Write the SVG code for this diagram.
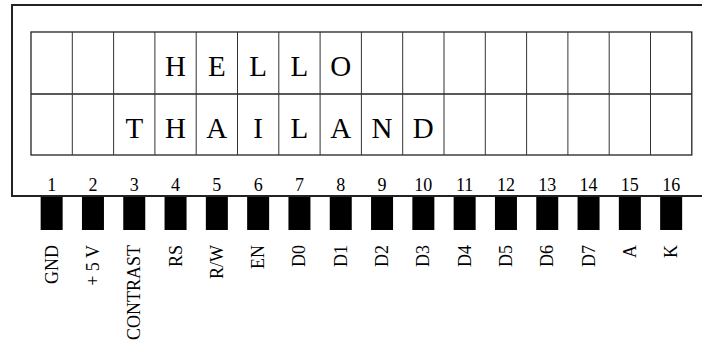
<svg xmlns="http://www.w3.org/2000/svg" width="702" height="347" viewBox="0 0 702 347">
<style>
.frame{fill:#fff;stroke:#222;stroke-width:2}
.grid{fill:none;stroke:#222;stroke-width:1.3}
.col{stroke:#333;stroke-width:1}
.ch{font-family:"Liberation Serif",serif;font-size:29px;fill:#000;text-anchor:middle}
.num{font-family:"Liberation Serif",serif;font-size:18px;fill:#000;text-anchor:middle}
.lbl{font-family:"Liberation Serif",serif;font-size:18px;fill:#000;text-anchor:end}
.pin{fill:#000}
</style>
<rect width="702" height="347" fill="#fff"/>
<g id="module">
<rect class="frame" x="12" y="5" width="700" height="191"/>
</g>
<g id="display">
<rect class="grid" x="31" y="32" width="660.8" height="123"/>
<line class="grid" x1="31" y1="94" x2="691.8" y2="94"/>
<g class="col">
<line x1="72.3" y1="32" x2="72.3" y2="155"/>
<line x1="113.6" y1="32" x2="113.6" y2="155"/>
<line x1="154.9" y1="32" x2="154.9" y2="155"/>
<line x1="196.2" y1="32" x2="196.2" y2="155"/>
<line x1="237.5" y1="32" x2="237.5" y2="155"/>
<line x1="278.8" y1="32" x2="278.8" y2="155"/>
<line x1="320.1" y1="32" x2="320.1" y2="155"/>
<line x1="361.4" y1="32" x2="361.4" y2="155"/>
<line x1="402.7" y1="32" x2="402.7" y2="155"/>
<line x1="444" y1="32" x2="444" y2="155"/>
<line x1="485.3" y1="32" x2="485.3" y2="155"/>
<line x1="526.6" y1="32" x2="526.6" y2="155"/>
<line x1="567.9" y1="32" x2="567.9" y2="155"/>
<line x1="609.2" y1="32" x2="609.2" y2="155"/>
<line x1="650.5" y1="32" x2="650.5" y2="155"/>
</g>
<g id="row1">
<text class="ch" x="175.55" y="76">H</text>
<text class="ch" x="216.85" y="76">E</text>
<text class="ch" x="258.15" y="76">L</text>
<text class="ch" x="299.45" y="76">L</text>
<text class="ch" x="340.75" y="76">O</text>
</g>
<g id="row2">
<text class="ch" x="134.25" y="138">T</text>
<text class="ch" x="175.55" y="138">H</text>
<text class="ch" x="216.85" y="138">A</text>
<text class="ch" x="258.15" y="138">I</text>
<text class="ch" x="299.45" y="138">L</text>
<text class="ch" x="340.75" y="138">A</text>
<text class="ch" x="382.05" y="138">N</text>
<text class="ch" x="423.35" y="138">D</text>
</g>
</g>
<g id="pin1"><text class="num" x="51.65" y="191">1</text><rect class="pin" x="40.65" y="197" width="22" height="33"/><text class="lbl" transform="translate(57.65,245) rotate(-90)">GND</text></g>
<g id="pin2"><text class="num" x="92.95" y="191">2</text><rect class="pin" x="81.95" y="197" width="22" height="33"/><text class="lbl" transform="translate(98.95,245) rotate(-90)">+ 5 V</text></g>
<g id="pin3"><text class="num" x="134.25" y="191">3</text><rect class="pin" x="123.25" y="197" width="22" height="33"/><text class="lbl" transform="translate(140.25,245) rotate(-90)">CONTRAST</text></g>
<g id="pin4"><text class="num" x="175.55" y="191">4</text><rect class="pin" x="164.55" y="197" width="22" height="33"/><text class="lbl" transform="translate(181.55,245) rotate(-90)">RS</text></g>
<g id="pin5"><text class="num" x="216.85" y="191">5</text><rect class="pin" x="205.85" y="197" width="22" height="33"/><text class="lbl" transform="translate(222.85,245) rotate(-90)">R/W</text></g>
<g id="pin6"><text class="num" x="258.15" y="191">6</text><rect class="pin" x="247.15" y="197" width="22" height="33"/><text class="lbl" transform="translate(264.15,245) rotate(-90)">EN</text></g>
<g id="pin7"><text class="num" x="299.45" y="191">7</text><rect class="pin" x="288.45" y="197" width="22" height="33"/><text class="lbl" transform="translate(305.45,245) rotate(-90)">D0</text></g>
<g id="pin8"><text class="num" x="340.75" y="191">8</text><rect class="pin" x="329.75" y="197" width="22" height="33"/><text class="lbl" transform="translate(346.75,245) rotate(-90)">D1</text></g>
<g id="pin9"><text class="num" x="382.05" y="191">9</text><rect class="pin" x="371.05" y="197" width="22" height="33"/><text class="lbl" transform="translate(388.05,245) rotate(-90)">D2</text></g>
<g id="pin10"><text class="num" x="423.35" y="191">10</text><rect class="pin" x="412.35" y="197" width="22" height="33"/><text class="lbl" transform="translate(429.35,245) rotate(-90)">D3</text></g>
<g id="pin11"><text class="num" x="464.65" y="191">11</text><rect class="pin" x="453.65" y="197" width="22" height="33"/><text class="lbl" transform="translate(470.65,245) rotate(-90)">D4</text></g>
<g id="pin12"><text class="num" x="505.95" y="191">12</text><rect class="pin" x="494.95" y="197" width="22" height="33"/><text class="lbl" transform="translate(511.95,245) rotate(-90)">D5</text></g>
<g id="pin13"><text class="num" x="547.25" y="191">13</text><rect class="pin" x="536.25" y="197" width="22" height="33"/><text class="lbl" transform="translate(553.25,245) rotate(-90)">D6</text></g>
<g id="pin14"><text class="num" x="588.55" y="191">14</text><rect class="pin" x="577.55" y="197" width="22" height="33"/><text class="lbl" transform="translate(594.55,245) rotate(-90)">D7</text></g>
<g id="pin15"><text class="num" x="629.85" y="191">15</text><rect class="pin" x="618.85" y="197" width="22" height="33"/><text class="lbl" transform="translate(635.85,245) rotate(-90)">A</text></g>
<g id="pin16"><text class="num" x="671.15" y="191">16</text><rect class="pin" x="660.15" y="197" width="22" height="33"/><text class="lbl" transform="translate(677.15,245) rotate(-90)">K</text></g>
<g id="connectors"></g>
</svg>
